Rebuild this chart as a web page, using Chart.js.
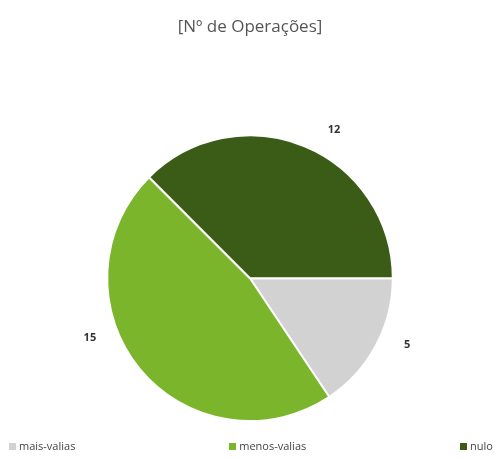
<!DOCTYPE html>
<html>
<head>
<meta charset="utf-8">
<script src="https://cdn.jsdelivr.net/npm/chart.js@4/dist/chart.umd.min.js"></script>
<style>
    html, body { margin: 0; padding: 0; background: #fff; }
    #wrap { position: relative; width: 495px; height: 460px; }
    #legenda {
        position: absolute; left: 9px; right: 2px; top: 438px;
        display: flex; justify-content: space-between;
        font-family: "Open Sans", sans-serif; font-size: 11px; color: #444;
    }
    #legenda span.caixa { display: inline-block; width: 7px; height: 7px; margin-right: 3px; }
</style>
</head>
<body>
<div id="wrap">
    <canvas id="graficoPizza" width="495" height="460"></canvas>
    <div id="legenda"></div>
</div>
<script>
// Dados do gráfico
const categorias = ['mais-valias', 'menos-valias', 'nulo'];
const valores = [5, 15, 12];
const cores = ['#d2d2d2', '#7ab52c', '#3b5c17'];

// Ajuste angular dos rótulos (graus), como o Excel faz
const ajusteRotulos = [-5, 19, 7];

const rotulosPlugin = {
    id: 'rotulos',
    afterDatasetsDraw(chart) {
        const ctx = chart.ctx;
        const meta = chart.getDatasetMeta(0);
        ctx.save();
        ctx.font = 'bold 11px "Open Sans", sans-serif';
        ctx.fillStyle = '#333';
        ctx.textAlign = 'center';
        ctx.textBaseline = 'middle';
        meta.data.forEach((arc, i) => {
            const ang = (arc.startAngle + arc.endAngle) / 2 + ajusteRotulos[i] * Math.PI / 180;
            const r = arc.outerRadius + 28;
            ctx.fillText(valores[i], arc.x + Math.cos(ang) * r, arc.y + Math.sin(ang) * r);
        });
        ctx.restore();
    }
};

const ctx = document.getElementById('graficoPizza').getContext('2d');
new Chart(ctx, {
    type: 'pie',
    data: {
        labels: categorias,
        datasets: [{
            data: valores,
            backgroundColor: cores,
            borderColor: '#ffffff',
            borderWidth: 2
        }]
    },
    options: {
        responsive: false,
        animation: false,
        rotation: 90,
        layout: { padding: { left: 5, right: 0, top: 0, bottom: 38 } },
        plugins: {
            title: {
                display: true,
                text: '[Nº de Operações]',
                color: '#555555',
                font: { family: '"Open Sans", sans-serif', size: 17, weight: 'normal' },
                padding: { top: 17, bottom: 97 }
            },
            legend: { display: false },
            tooltip: { enabled: false }
        }
    },
    plugins: [rotulosPlugin]
});

// Legenda
const legenda = document.getElementById('legenda');
categorias.forEach((cat, i) => {
    const item = document.createElement('div');
    item.innerHTML = '<span class="caixa" style="background:' + cores[i] + '"></span>' + cat;
    legenda.appendChild(item);
});
</script>
</body>
</html>
